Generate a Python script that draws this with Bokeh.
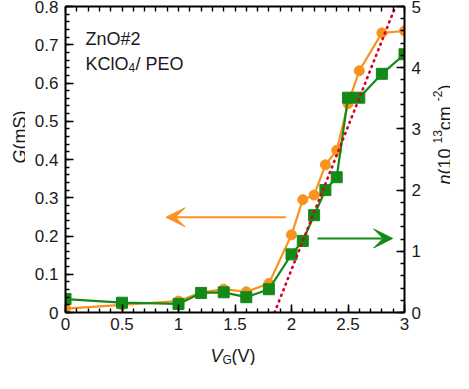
import numpy as np
from bokeh.plotting import figure
from bokeh.layouts import row, column
from bokeh.models import Range1d, LinearAxis, FixedTicker, Label, Arrow, VeeHead
from bokeh.embed import file_html
from bokeh.resources import INLINE

# ---- data ----
vg = [0.0, 0.5, 1.0, 1.2, 1.4, 1.6, 1.8, 2.0, 2.1, 2.2, 2.3, 2.4, 2.5, 2.6, 2.8, 3.0]
g_ms = [0.010, 0.020, 0.030, 0.052, 0.061, 0.054, 0.076, 0.203, 0.295, 0.307,
        0.386, 0.424, 0.546, 0.632, 0.731, 0.736]
n_vals = [0.22, 0.16, 0.14, 0.32, 0.33, 0.25, 0.38, 0.95, 1.17, 1.59,
          2.00, 2.21, 3.51, 3.51, 3.90, 4.22]
fit_v = [1.85, 2.92]
fit_n = [0.0, 5.0]

x_ticks = [0.0, 0.5, 1.0, 1.5, 2.0, 2.5, 3.0]
x_tick_labels = ["0", "0.5", "1", "1.5", "2", "2.5", "3"]
g_ticks = [0.0, 0.1, 0.2, 0.3, 0.4, 0.5, 0.6, 0.7, 0.8]
g_tick_labels = ["0", "0.1", "0.2", "0.3", "0.4", "0.5", "0.6", "0.7", "0.8"]
n_ticks = [0, 1, 2, 3, 4, 5]
n_tick_labels = ["0", "1", "2", "3", "4", "5"]

# arrow annotations (data coords)
arrow_g = dict(x_start=1.95, x_end=0.89, y=0.249)
arrow_n = dict(x_start=2.23, x_end=2.895, y=1.21)

ORANGE = "#F7931E"
GREEN = "#138A17"
RED = "#D7001E"
FONT = "Liberation Sans"
TXT = "#1a1a1a"

LEFT_W, RIGHT_W, BOTTOM_H = 25, 27, 28
MAIN_W, MAIN_H = 398, 337

p = figure(width=MAIN_W, height=MAIN_H, x_range=Range1d(0, 3), y_range=Range1d(0, 0.8),
           output_backend="svg", toolbar_location=None,
           min_border_left=40, min_border_right=18, min_border_top=6, min_border_bottom=25)
p.extra_y_ranges = {"n": Range1d(0, 5)}
p.grid.visible = False
p.outline_line_color = None
p.background_fill_color = "white"


def style_axis(ax, ticks, minor, labels, standoff=8):
    ax.ticker = FixedTicker(ticks=ticks, minor_ticks=minor)
    if labels is not None:
        ax.major_label_overrides = {t: l for t, l in zip(ticks, labels)}
    ax.axis_line_width = 2
    ax.axis_line_color = "black"
    ax.major_tick_in = 8
    ax.major_tick_out = 0
    ax.minor_tick_in = 4
    ax.minor_tick_out = 0
    ax.major_tick_line_width = 1.6
    ax.minor_tick_line_width = 1.4
    ax.major_tick_line_color = "black"
    ax.minor_tick_line_color = "black"
    ax.major_label_text_font = FONT
    ax.major_label_text_font_size = "17px"
    ax.major_label_text_color = TXT
    ax.major_label_standoff = standoff
    ax.axis_label = None


x_minor = list(np.round(np.arange(0, 3.001, 0.1), 3))
g_minor = list(np.round(np.arange(0, 0.8001, 0.02), 3))
n_minor = list(np.round(np.arange(0, 5.001, 0.2), 3))

style_axis(p.xaxis[0], x_ticks, x_minor, x_tick_labels, standoff=5)
style_axis(p.yaxis[0], g_ticks, g_minor, g_tick_labels, standoff=7)

# top axis: tick marks only (no labels)
top = LinearAxis()
style_axis(top, [], x_minor, None, standoff=0)
top.minor_tick_in = 5
p.add_layout(top, "above")

right = LinearAxis(y_range_name="n")
style_axis(right, n_ticks, n_minor, n_tick_labels, standoff=7)
p.add_layout(right, "right")

# data
p.line(vg, g_ms, line_color=ORANGE, line_width=2.2)
p.scatter(vg, g_ms, marker="circle", size=10, fill_color=ORANGE, line_color=ORANGE)

p.line(vg, n_vals, line_color=GREEN, line_width=2.2, y_range_name="n")
p.scatter(vg, n_vals, marker="square", size=11, fill_color=GREEN, line_color=GREEN,
          y_range_name="n")

p.line(fit_v, fit_n, line_color=RED, line_width=2.6, line_dash="1 5", line_cap="round",
       y_range_name="n")

# arrows
p.add_layout(Arrow(end=VeeHead(size=19, fill_color=ORANGE, line_color=ORANGE),
                   x_start=arrow_g["x_start"], y_start=arrow_g["y"],
                   x_end=arrow_g["x_end"], y_end=arrow_g["y"],
                   line_color=ORANGE, line_width=2))
p.add_layout(Arrow(end=VeeHead(size=19, fill_color=GREEN, line_color=GREEN),
                   x_start=arrow_n["x_start"], y_start=arrow_n["y"],
                   x_end=arrow_n["x_end"], y_end=arrow_n["y"],
                   line_color=GREEN, line_width=2, y_range_name="n"))


def lab(fig, text, x, y, size, style="normal", angle=0.0):
    fig.add_layout(Label(x=x, y=y, x_units="screen", y_units="screen", text=text,
                         text_font=FONT, text_font_size=f"{size}px", text_font_style=style,
                         text_color=TXT, angle=angle, text_align="left",
                         text_baseline="alphabetic"))


# in-plot annotations
lab(p, "ZnO#2", 20, 274, 18)
lab(p, "KClO", 20, 249, 18)
lab(p, "4", 63, 245, 12)
lab(p, "/ PEO", 70, 249, 18)


def strip(w, h):
    f = figure(width=w, height=h, x_range=Range1d(0, w), y_range=Range1d(0, h),
               x_axis_type=None, y_axis_type=None, output_backend="svg",
               toolbar_location=None, min_border=0,
               min_border_left=0, min_border_right=0, min_border_top=0, min_border_bottom=0)
    f.grid.visible = False
    f.outline_line_color = None
    return f


A = np.pi / 2

# left strip: G (mS)
left = strip(LEFT_W, MAIN_H)
lab(left, "G", 19.5, 149, 18, style="italic", angle=A)
lab(left, " (mS)", 19.5, 163, 18, angle=A)

# right strip: n (10^13 cm^-2)
rs = strip(RIGHT_W, MAIN_H)
bx = 21
lab(rs, "n", bx, 128, 18, style="italic", angle=A)
lab(rs, " (10", bx, 138, 18, angle=A)
lab(rs, "13", bx - 7, 169, 12, angle=A)
lab(rs, " cm", bx, 182.3, 18, angle=A)
lab(rs, "-2", bx - 7, 211.3, 12, angle=A)
lab(rs, ")", bx, 222, 18, angle=A)

# bottom strip: V_G (V)
bs = strip(LEFT_W + MAIN_W + RIGHT_W, BOTTOM_H)
lab(bs, "V", 210, 10, 18, style="italic")
lab(bs, "G", 222, 6, 12)
lab(bs, " (V)", 231, 10, 18)

layout = column(row(left, p, rs), bs)
open("out.html", "w").write(file_html(layout, INLINE))
